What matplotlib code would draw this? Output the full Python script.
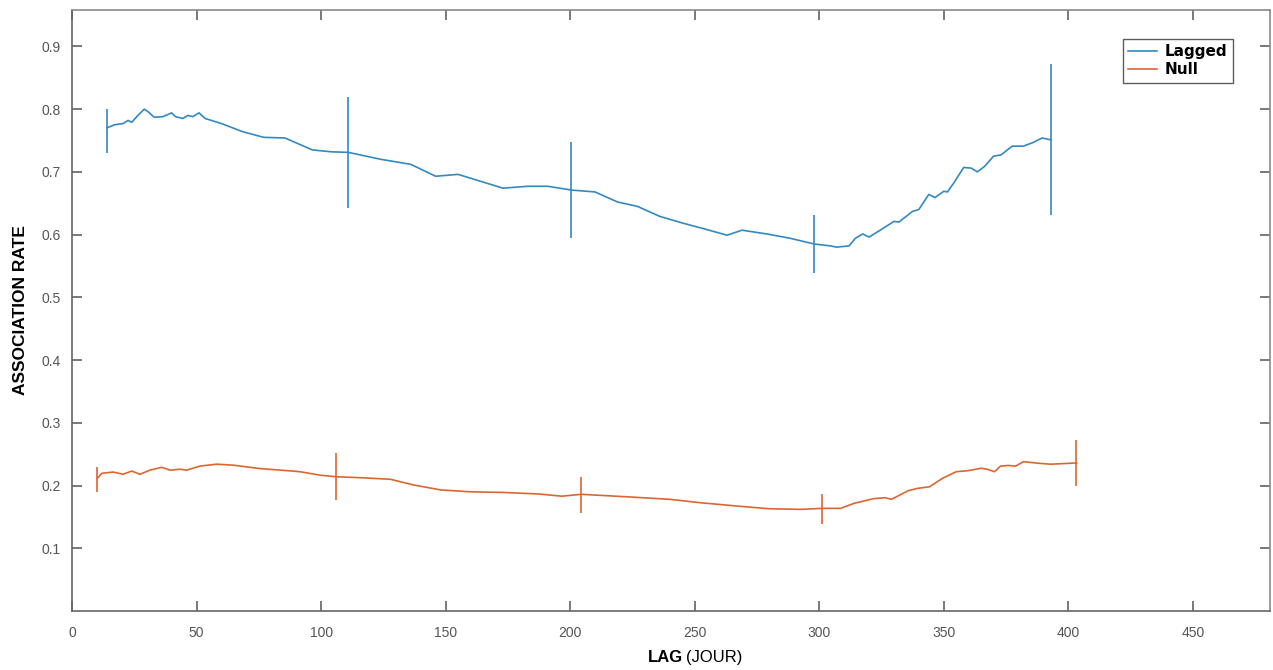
import matplotlib.pyplot as plt

plt.rcParams['font.family'] = ['Liberation Sans', 'DejaVu Sans']

# lagged association rate (blue)
lag_lagged = [14, 17, 20.5, 22.5, 24, 26, 29, 30.5, 33, 36.5, 40, 41.5, 44.5, 46.5,
              48.5, 51, 53.5, 60, 68.5, 77, 85.5, 96.5, 104, 111, 124, 136, 146, 155,
              164, 173, 183, 191, 200.5, 210, 219, 227, 236, 245.5, 254, 263, 269, 279,
              288.5, 298, 304.5, 307, 312, 314.5, 317.5, 320, 324.5, 330, 332, 337.5,
              340, 344, 346.5, 350, 351.5, 354, 358, 361, 363.5, 366.5, 370, 373,
              377.5, 382, 386, 389.5, 393]
rate_lagged = [0.770, 0.775, 0.777, 0.782, 0.779, 0.788, 0.800, 0.796, 0.787, 0.788,
               0.794, 0.788, 0.785, 0.790, 0.788, 0.794, 0.785, 0.777, 0.764, 0.755,
               0.754, 0.735, 0.732, 0.731, 0.720, 0.712, 0.693, 0.696, 0.685, 0.674,
               0.677, 0.677, 0.671, 0.668, 0.652, 0.645, 0.629, 0.618, 0.609, 0.599,
               0.607, 0.601, 0.594, 0.585, 0.582, 0.580, 0.582, 0.594, 0.601, 0.596,
               0.607, 0.621, 0.620, 0.637, 0.640, 0.664, 0.659, 0.669, 0.668, 0.682,
               0.707, 0.706, 0.700, 0.709, 0.725, 0.727, 0.741, 0.741, 0.747, 0.754,
               0.751]
bar_lag_lagged = [14, 111, 200.5, 298, 393]
bar_mid_lagged = [0.770, 0.731, 0.671, 0.585, 0.751]
bar_low_lagged = [0.730, 0.643, 0.595, 0.538, 0.632]
bar_high_lagged = [0.800, 0.820, 0.747, 0.631, 0.872]

# null association rate (orange)
lag_null = [10.2, 12, 16.5, 20.5, 24, 27.3, 31.3, 36, 39.4, 43.4, 46, 51.4, 58, 64.7,
            75.5, 88.8, 91.6, 99.6, 106, 115.7, 127.8, 137, 148, 160, 173, 187.4,
            196.7, 204.5, 223, 240, 252.3, 267.8, 280, 292.5, 301.3, 308.6, 314,
            321.8, 326.5, 329, 335.7, 339.5, 344.3, 349.5, 355, 359.6, 365, 367.5,
            370.4, 372.8, 375.9, 378.9, 382, 388.3, 393, 403.3]
rate_null = [0.2115, 0.2195, 0.2215, 0.218, 0.223, 0.218, 0.2245, 0.229, 0.2245,
             0.226, 0.2245, 0.231, 0.234, 0.2325, 0.227, 0.223, 0.222, 0.2165, 0.214,
             0.2125, 0.210, 0.201, 0.193, 0.190, 0.189, 0.1865, 0.183, 0.186, 0.182,
             0.178, 0.1726, 0.167, 0.163, 0.162, 0.1636, 0.1636, 0.1716, 0.179,
             0.1806, 0.178, 0.1917, 0.1955, 0.198, 0.2115, 0.222, 0.2236, 0.2275,
             0.226, 0.222, 0.231, 0.232, 0.231, 0.238, 0.2354, 0.234, 0.236]
bar_lag_null = [10.2, 106, 204.5, 301.3, 403.3]
bar_mid_null = [0.2115, 0.214, 0.186, 0.1636, 0.236]
bar_low_null = [0.190, 0.177, 0.156, 0.139, 0.199]
bar_high_null = [0.230, 0.252, 0.214, 0.186, 0.2725]

blue = '#3389c2'
orange = '#dc6630'

fig = plt.figure(figsize=(12.73, 6.70), dpi=100)
ax = fig.add_axes([72 / 1273, 59 / 670, 1198 / 1273, 601 / 670])

ax.plot(lag_lagged, rate_lagged, color=blue, lw=1.2, label='Lagged')
ax.plot(lag_null, rate_null, color=orange, lw=1.2, label='Null')

err_l = [[m - lo for m, lo in zip(bar_mid_lagged, bar_low_lagged)],
         [hi - m for m, hi in zip(bar_mid_lagged, bar_high_lagged)]]
ax.errorbar(bar_lag_lagged, bar_mid_lagged, yerr=err_l, fmt='none',
            ecolor=blue, elinewidth=1.2, capsize=0)
err_n = [[m - lo for m, lo in zip(bar_mid_null, bar_low_null)],
         [hi - m for m, hi in zip(bar_mid_null, bar_high_null)]]
ax.errorbar(bar_lag_null, bar_mid_null, yerr=err_n, fmt='none',
            ecolor=orange, elinewidth=1.2, capsize=0)

ax.set_xlim(0, 481)
ax.set_ylim(0, 0.958)
ax.set_xticks(range(0, 451, 50))
ax.set_yticks([0.1, 0.2, 0.3, 0.4, 0.5, 0.6, 0.7, 0.8, 0.9])
ax.set_yticklabels(['0.1', '0.2', '0.3', '0.4', '0.5', '0.6', '0.7', '0.8', '0.9'])

for s in ax.spines.values():
    s.set_color('#8a8a8a')
    s.set_linewidth(1.2)
ax.spines['left'].set_color('#666666')
ax.spines['bottom'].set_color('#666666')

ax.tick_params(direction='in', length=7, width=1.1, color='#555555',
               labelcolor='#555555', labelsize=10, top=True, right=True)
ax.tick_params(axis='y', pad=8)
ax.tick_params(axis='x', pad=11)

ax.set_ylabel('ASSOCIATION RATE', fontsize=12.5, fontweight='bold')
ax.yaxis.set_label_coords(-0.037, 0.5)
fig.text(683 / 1273, 0.018, 'LAG', fontsize=12, fontweight='bold', ha='right', va='center')
fig.text(686 / 1273, 0.018, '(JOUR)', fontsize=12, ha='left', va='center')

leg = ax.legend(loc='upper right', bbox_to_anchor=(0.969, 0.952), fancybox=False,
                prop={'family': 'DejaVu Sans', 'weight': 'bold', 'size': 11},
                handlelength=1.9, borderpad=0.35, labelspacing=0.2,
                handletextpad=0.5, borderaxespad=0)
leg.get_frame().set_edgecolor('#333333')
leg.get_frame().set_linewidth(1.0)

fig.savefig('out.png', dpi=100)
